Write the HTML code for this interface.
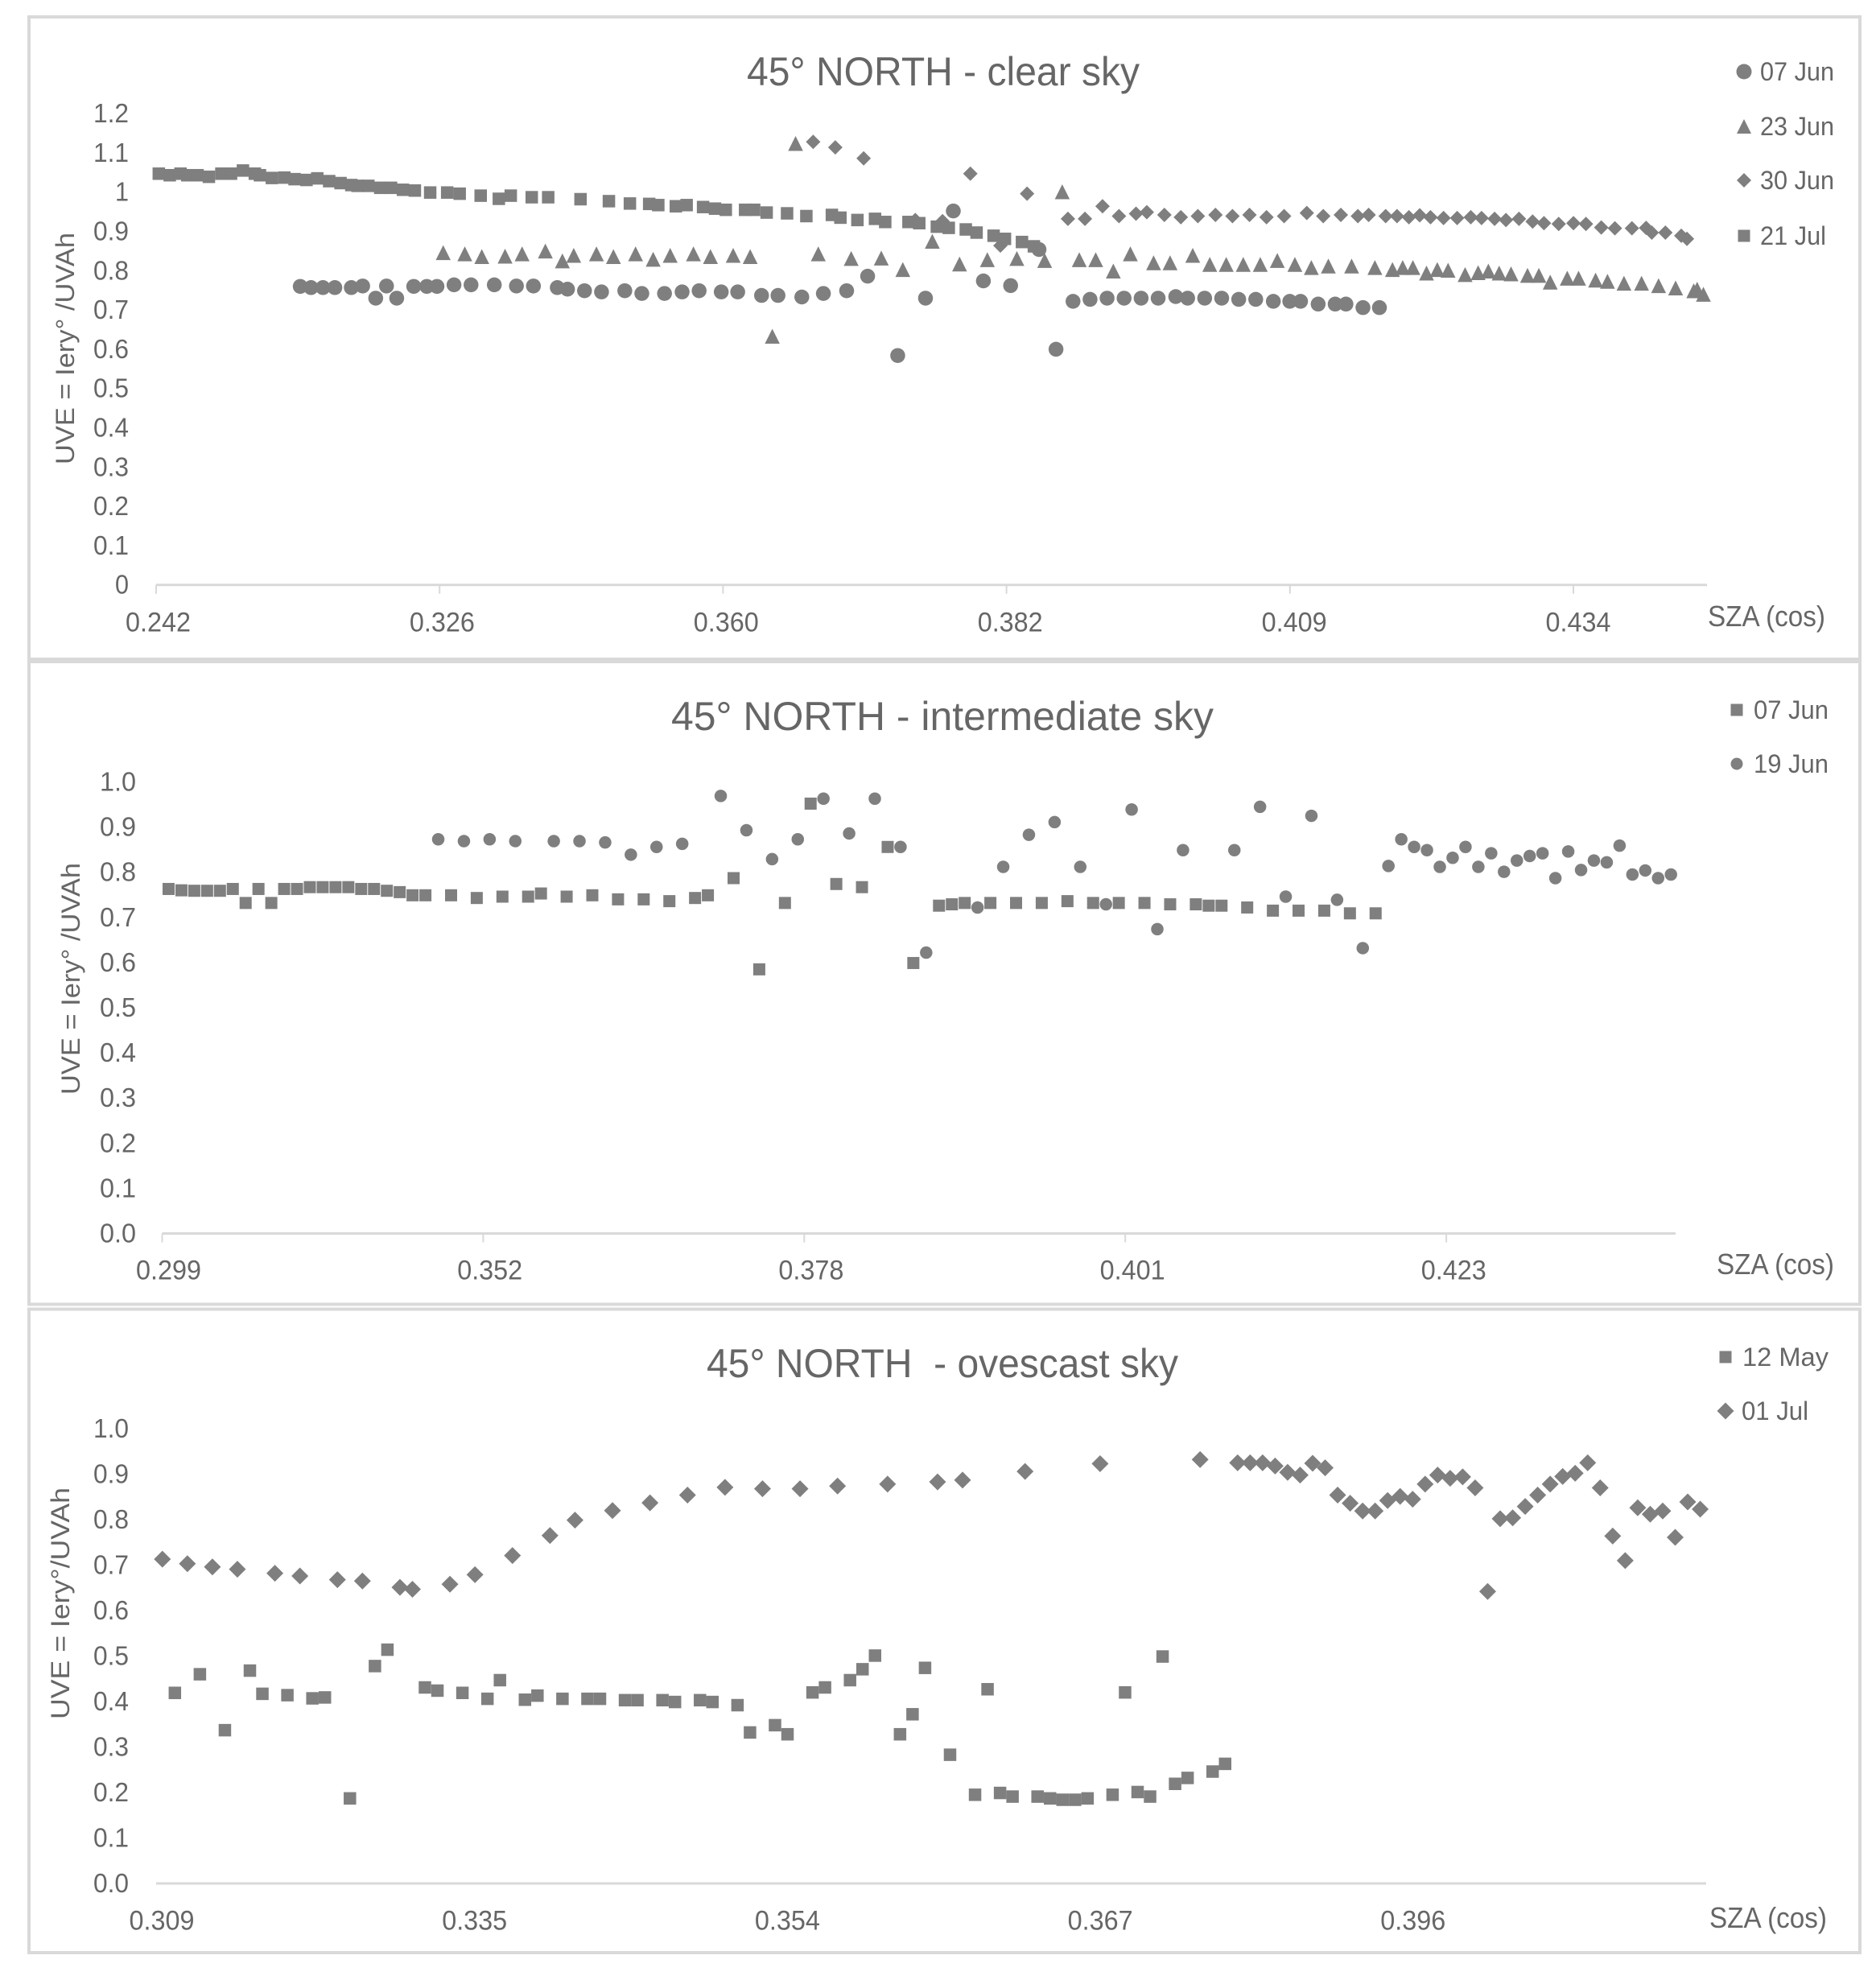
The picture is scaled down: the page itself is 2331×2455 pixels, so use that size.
<!DOCTYPE html>
<html lang="en">
<head>
<meta charset="utf-8">
<title>45° NORTH UVE charts</title>
<style>
html,body{margin:0;padding:0;background:#fff;width:2331px;height:2455px;overflow:hidden}
svg{display:block}
text{font-family:"Liberation Sans",sans-serif;fill:#666}
</style>
</head>
<body>
<svg id="figure" xmlns="http://www.w3.org/2000/svg" width="2331" height="2455" viewBox="0 0 2331 2455">
  <rect width="2331" height="2455" fill="#fff"/>
  <rect x="36" y="21" width="2275" height="798" fill="#fff" stroke="#d9d9d9" stroke-width="4"/>
  <rect x="36" y="822" width="2275" height="798.5" fill="#fff" stroke="#d9d9d9" stroke-width="4"/>
  <rect x="36" y="1626.5" width="2275" height="799.5" fill="#fff" stroke="#d9d9d9" stroke-width="4"/>

  <text x="1172" y="106" text-anchor="middle" font-size="50" textLength="488" lengthAdjust="spacingAndGlyphs">45° NORTH - clear sky</text>
  <text x="1171" y="907" text-anchor="middle" font-size="50" textLength="674" lengthAdjust="spacingAndGlyphs">45° NORTH - intermediate sky</text>
  <text x="1171" y="1711" text-anchor="middle" font-size="50" textLength="586" lengthAdjust="spacingAndGlyphs">45° NORTH &#160;- ovescast sky</text>

  <text transform="translate(92,433) rotate(-90)" text-anchor="middle" font-size="32" textLength="288" lengthAdjust="spacingAndGlyphs">UVE = Iery° /UVAh</text>
  <text transform="translate(99,1216) rotate(-90)" text-anchor="middle" font-size="32" textLength="288" lengthAdjust="spacingAndGlyphs">UVE = Iery° /UVAh</text>
  <text transform="translate(86,1992) rotate(-90)" text-anchor="middle" font-size="32" textLength="288" lengthAdjust="spacingAndGlyphs">UVE = Iery°/UVAh</text>

  <text x="2122" y="778" font-size="36" textLength="146" lengthAdjust="spacingAndGlyphs">SZA (cos)</text>
  <text x="2133" y="1583" font-size="36" textLength="146" lengthAdjust="spacingAndGlyphs">SZA (cos)</text>
  <text x="2124" y="2395" font-size="36" textLength="146" lengthAdjust="spacingAndGlyphs">SZA (cos)</text>
  <g id="layer"></g>
</svg>
<script>
// ---- Chart 1: clear sky (x = observation index along category axis, y = UVE ratio)
const clearXTicks = ["0.242","0.326","0.360","0.382","0.409","0.434"];
const clearYTicks = [0,0.1,0.2,0.3,0.4,0.5,0.6,0.7,0.8,0.9,1,1.1,1.2];
const clearJun07X = [25.4,27.3,29.4,31.5,34.4,36.4,38.7,40.6,42.4,45.4,47.7,49.5,52.5,55.5,59.6,63.5,66.5,70.7,72.5,75.5,78.5,82.6,85.6,89.6,92.7,95.7,99.6,102.5,106.7,109.6,113.8,117.6,121.7,125.4,130.7,135.6,140.5,145.8,150.6,155.6,158.6,161.6,164.6,167.6,170.6,173.6,176.6,179.7,181.8,184.8,187.8,190.8,193.8,196.9,199.8,201.7,204.8,207.8,209.7,212.7,215.6];
const clearJun07Y = [.76,.757,.757,.757,.757,.761,.73,.761,.73,.76,.76,.76,.764,.764,.764,.761,.761,.757,.753,.749,.746,.749,.742,.742,.746,.749,.746,.746,.737,.737,.733,.742,.749,.786,.584,.73,.952,.774,.762,.854,.6,.722,.727,.73,.73,.73,.73,.734,.73,.73,.73,.727,.727,.722,.722,.722,.715,.715,.715,.706,.706];
const clearJun23X = [50.6,54.4,57.4,61.5,64.5,68.6,71.6,73.6,77.6,80.6,84.5,87.6,90.6,94.7,97.7,101.7,104.7,108.6,112.7,116.7,122.5,127.8,131.6,136.8,141.6,146.5,151.7,156.6,159.7,162.7,165.6,168.7,171.7,175.8,178.7,182.7,185.7,188.6,191.6,194.6,197.6,200.7,203.6,206.6,210.7,214.8,217.9,219.7,221.5,223.9,225.8,227.7,230.7,233,234.8,236.7,238.8,241.7,243.7,245.7,248.7,250.7,253.7,255.8,258.7,261.8,264.8,267.8,271,271.6,272.7];
const clearJun23Y = [.846,.843,.836,.837,.843,.85,.825,.839,.843,.836,.843,.829,.839,.843,.836,.839,.836,.633,1.124,.843,.831,.832,.803,.875,.817,.828,.831,.826,1.001,.828,.828,.799,.843,.82,.82,.839,.816,.816,.816,.816,.826,.816,.808,.812,.812,.808,.803,.808,.808,.794,.803,.801,.79,.795,.799,.794,.792,.788,.788,.771,.781,.781,.776,.773,.768,.768,.762,.756,.749,.753,.74];
const clearJun30X = [115.8,119.7,124.7,133.8,138.6,143.5,148.8,153.5,160.7,163.7,166.8,169.7,172.7,174.6,177.7,180.6,183.6,186.7,189.7,192.7,195.7,198.8,202.8,205.7,208.8,211.8,213.7,216.7,218.7,220.8,222.7,224.6,226.9,229.3,231.7,233.6,235.9,237.9,240.2,242.6,244.6,247.2,249.8,252,254.7,257.1,260.1,262.6,263.6,266,268.8,269.8];
const clearJun30Y = [1.128,1.114,1.086,.929,.926,1.047,.864,.996,.932,.932,.964,.939,.945,.949,.942,.936,.939,.942,.939,.942,.936,.939,.947,.939,.942,.939,.942,.939,.939,.936,.941,.936,.934,.934,.936,.934,.932,.929,.932,.925,.921,.919,.921,.919,.91,.908,.908,.909,.897,.897,.889,.881];
const clearJul21X = [.47,2.4,4.3,5.5,7.3,9.3,11.5,13.2,15.3,17.4,18.3,20.4,22.6,24.4,26.5,28.4,30.5,32.5,34.4,35.5,37.4,39.5,41.4,43.5,45.6,48.3,51.3,53.5,57.2,60.4,62.5,66.2,69.1,74.8,79.8,83.5,86.9,88.5,91.6,93.5,96.4,98.5,100.4,103.8,105.4,107.6,111.2,114.6,119.1,120.6,123.6,126.7,128.5,132.6,134.5,137.6,139.7,142.7,144.6,147.6,149.6,152.6,154.7];
const clearJul21Y = [1.047,1.043,1.047,1.043,1.043,1.039,1.047,1.047,1.055,1.047,1.043,1.036,1.037,1.033,1.031,1.035,1.028,1.023,1.018,1.016,1.016,1.011,1.011,1.006,1.004,.999,.999,.996,.991,.983,.991,.987,.987,.982,.977,.971,.97,.967,.964,.967,.962,.958,.955,.955,.955,.948,.946,.939,.942,.935,.929,.932,.924,.924,.921,.912,.909,.905,.897,.889,.881,.873,.862];

// ---- Chart 2: intermediate sky
const interXTicks = ["0.299","0.352","0.378","0.401","0.423"];
const interYTicks = ["0.0","0.1","0.2","0.3","0.4","0.5","0.6","0.7","0.8","0.9","1.0"];
const interJun07X = [.5,1.5,2.5,3.5,4.5,5.5,6.5,7.5,8.5,9.5,10.5,11.5,12.5,13.5,14.5,15.5,16.5,17.5,18.5,19.5,20.5,22.5,24.5,26.5,28.5,29.5,31.5,33.5,35.5,37.5,39.5,41.5,42.5,44.5,46.5,48.5,50.5,52.5,54.5,56.5,58.5,60.5,61.5,62.5,64.5,66.5,68.5,70.5,72.5,74.5,76.5,78.5,80.5,81.5,82.5,84.5,86.5,88.5,90.5,92.5,94.5];
const interJun07Y = [.763,.76,.759,.759,.759,.763,.732,.763,.732,.763,.763,.767,.767,.767,.767,.763,.763,.759,.756,.749,.749,.749,.743,.746,.746,.753,.746,.749,.74,.74,.736,.743,.749,.787,.585,.732,.952,.774,.767,.856,.599,.726,.729,.732,.732,.732,.732,.736,.732,.732,.732,.729,.729,.726,.726,.722,.715,.715,.715,.709,.709];
const interJun19X = [21.5,23.5,25.5,27.5,30.5,32.5,34.5,36.5,38.5,40.5,43.5,45.5,47.5,49.5,51.5,53.5,55.5,57.5,59.5,63.5,65.5,67.5,69.5,71.5,73.5,75.5,77.5,79.5,83.5,85.5,87.5,89.5,91.5,93.5,95.5,96.5,97.5,98.5,99.5,100.5,101.5,102.5,103.5,104.5,105.5,106.5,107.5,108.5,109.5,110.5,111.5,112.5,113.5,114.5,115.5,116.5,117.5];
const interJun19Y = [.873,.869,.873,.869,.869,.869,.866,.839,.856,.863,.969,.893,.829,.873,.963,.886,.963,.856,.622,.722,.812,.883,.911,.812,.729,.939,.674,.849,.849,.945,.746,.925,.739,.632,.814,.873,.856,.849,.812,.832,.856,.812,.842,.801,.826,.836,.842,.787,.846,.805,.826,.822,.859,.795,.804,.787,.795];

// ---- Chart 3: overcast sky
const overXTicks = ["0.309","0.335","0.354","0.367","0.396"];
const overYTicks = ["0.0","0.1","0.2","0.3","0.4","0.5","0.6","0.7","0.8","0.9","1.0"];
const overMay12X = [1.5,3.5,5.5,7.5,8.5,10.5,12.5,13.5,15.5,17.5,18.5,21.5,22.5,24.5,26.5,27.5,29.5,30.5,32.5,34.5,35.5,37.5,38.5,40.5,41.5,43.5,44.5,46.5,47.5,49.5,50.5,52.5,53.5,55.5,56.5,57.5,59.5,60.5,61.5,63.5,65.5,66.5,67.5,68.5,70.5,71.5,72.5,73.5,74.5,76.5,77.5,78.5,79.5,80.5,81.5,82.5,84.5,85.5];
const overMay12Y = [.419,.46,.337,.468,.417,.414,.407,.409,.187,.478,.514,.431,.424,.419,.406,.447,.404,.413,.406,.406,.406,.403,.403,.403,.399,.403,.399,.392,.332,.348,.328,.42,.431,.447,.471,.501,.328,.372,.474,.283,.195,.427,.199,.191,.191,.187,.184,.184,.187,.195,.42,.201,.191,.499,.219,.232,.246,.263];
const overJul01X = [.5,2.5,4.5,6.5,9.5,11.5,14.5,16.5,19.5,20.5,23.5,25.5,28.5,31.5,33.5,36.5,39.5,42.5,45.5,48.5,51.5,54.5,58.5,62.5,64.5,69.5,75.5,83.5,86.5,87.5,88.5,89.5,90.5,91.5,92.5,93.5,94.5,95.5,96.5,97.5,98.5,99.5,100.5,101.5,102.5,103.5,104.5,105.5,106.5,107.5,108.5,109.5,110.5,111.5,112.5,113.5,114.5,115.5,116.5,117.5,118.5,119.5,120.5,121.5,122.5,123.5];
const overJul01Y = [.713,.703,.696,.691,.682,.676,.668,.665,.651,.647,.658,.679,.721,.765,.799,.82,.837,.854,.871,.868,.868,.874,.878,.883,.887,.906,.923,.932,.925,.925,.925,.918,.904,.898,.924,.914,.854,.836,.819,.819,.842,.851,.845,.878,.898,.891,.894,.87,.642,.802,.804,.829,.854,.878,.895,.902,.925,.87,.764,.71,.826,.812,.819,.761,.839,.823];

const svgNS = "http://www.w3.org/2000/svg";
const layer = document.getElementById("layer");

function clearX(i){ return 194 + i * 7.05; }
function clearY(v){ return 726.7 - v * 488; }
function interX(i){ return 201.5 + i * 15.955; }
function interY(v){ return 1532.5 - v * 561; }
function overX(i){ return 194 + i * 15.535; }
function overY(v){ return 2340 - v * 565; }

function makeMarker(shape, cx, cy, s){
  let el;
  const h = s / 2;
  if (shape === "circle") {
    el = document.createElementNS(svgNS, "circle");
    el.setAttribute("cx", cx);
    el.setAttribute("cy", cy);
    el.setAttribute("r", h);
  } else if (shape === "square") {
    el = document.createElementNS(svgNS, "rect");
    el.setAttribute("x", cx - h);
    el.setAttribute("y", cy - h);
    el.setAttribute("width", s);
    el.setAttribute("height", s);
  } else if (shape === "triangle") {
    el = document.createElementNS(svgNS, "polygon");
    el.setAttribute("points", (cx - h) + "," + (cy + h) + " " + (cx + h) + "," + (cy + h) + " " + cx + "," + (cy - h));
  } else {
    el = document.createElementNS(svgNS, "polygon");
    el.setAttribute("points", cx + "," + (cy - h) + " " + (cx + h) + "," + cy + " " + cx + "," + (cy + h) + " " + (cx - h) + "," + cy);
  }
  el.setAttribute("fill", "#7f7f7f");
  return el;
}

function drawSeries(name, shape, size, xs, ys, xFn, yFn){
  const g = document.createElementNS(svgNS, "g");
  
  
  xs.forEach(function(x, i){
    const m = makeMarker(shape, xFn(x), yFn(ys[i]), size);
    
    
    g.appendChild(m);
  });
  layer.appendChild(g);
}

function addText(name, str, x, y, anchor, size, len){
  const t = document.createElementNS(svgNS, "text");
  
  
  t.setAttribute("x", x);
  t.setAttribute("y", y);
  t.setAttribute("text-anchor", anchor);
  t.setAttribute("font-size", size);
  t.setAttribute("textLength", len);
  t.setAttribute("lengthAdjust", "spacingAndGlyphs");
  t.textContent = str;
  layer.appendChild(t);
}

function addLine(name, x1, y1, x2, y2, w){
  const l = document.createElementNS(svgNS, "line");
  
  
  l.setAttribute("x1", x1);
  l.setAttribute("y1", y1);
  l.setAttribute("x2", x2);
  l.setAttribute("y2", y2);
  l.setAttribute("stroke", "#d9d9d9");
  l.setAttribute("stroke-width", w);
  layer.appendChild(l);
}

function drawAxes(prefix, xTicks, yTicks, yFn, baseY, left, right, tickStep, labelStep, hasTicks, labelDx, labelY, yRight, yWidth){
  addLine(prefix + "-x-axis", left, baseY, right, baseY, 3);
  xTicks.forEach(function(lbl, k){
    const x = left + k * tickStep;
    if (hasTicks) {
      addLine(prefix + "-x-tick", x, baseY, x, baseY + 11, 2);
    }
    addText(prefix + "-x-tick-label", lbl, left + k * labelStep + labelDx, labelY, "middle", 34, 81);
  });
  yTicks.forEach(function(v){
    const num = Number(v);
    const str = String(v);
    addText(prefix + "-y-tick-label", str, yRight, yFn(num) + 11, "end", 33, str.length === 1 ? 17 : yWidth);
  });
}

drawAxes("clear", clearXTicks, clearYTicks, clearY, 726.7, 194, 2121, 352.2, 352.9, true, 2.5, 784.5, 160, 44);
drawAxes("intermediate", interXTicks, interYTicks, interY, 1532.5, 201.5, 2082, 398.9, 399.2, true, 8, 1589.5, 169, 45);
drawAxes("overcast", overXTicks, overYTicks, overY, 2340, 194, 2120, 388, 388.7, false, 7, 2397.5, 160, 44);

drawSeries("clear-07-jun", "circle", 18.5, clearJun07X, clearJun07Y, clearX, clearY);
drawSeries("clear-23-jun", "triangle", 18.5, clearJun23X, clearJun23Y, clearX, clearY);
drawSeries("clear-30-jun", "diamond", 18, clearJun30X, clearJun30Y, clearX, clearY);
drawSeries("clear-21-jul", "square", 15.5, clearJul21X, clearJul21Y, clearX, clearY);
drawSeries("intermediate-07-jun", "square", 15, interJun07X, interJun07Y, interX, interY);
drawSeries("intermediate-19-jun", "circle", 15.5, interJun19X, interJun19Y, interX, interY);
drawSeries("overcast-12-may", "square", 15.5, overMay12X, overMay12Y, overX, overY);
drawSeries("overcast-01-jul", "diamond", 21, overJul01X, overJul01Y, overX, overY);

function legendEntry(name, shape, size, mx, y, tx, len, label){
  const m = makeMarker(shape, mx, y, size);
  
  
  layer.appendChild(m);
  addText(name + "-legend-label", label, tx, y + 11, "start", 32, len);
}

legendEntry("clear-07-jun", "circle", 19, 2167, 89, 2187, 92, "07 Jun");
legendEntry("clear-23-jun", "triangle", 18, 2167, 157, 2187, 92, "23 Jun");
legendEntry("clear-30-jun", "diamond", 18, 2167, 224, 2187, 92, "30 Jun");
legendEntry("clear-21-jul", "square", 15, 2167, 293, 2187, 82, "21 Jul");
legendEntry("intermediate-07-jun", "square", 15, 2158, 882, 2179, 93, "07 Jun");
legendEntry("intermediate-19-jun", "circle", 15, 2158, 949, 2179, 93, "19 Jun");
legendEntry("overcast-12-may", "square", 15, 2144, 1686, 2165, 107, "12 May");
legendEntry("overcast-01-jul", "diamond", 21, 2144, 1753, 2164, 83, "01 Jul");
</script>
</body>
</html>
